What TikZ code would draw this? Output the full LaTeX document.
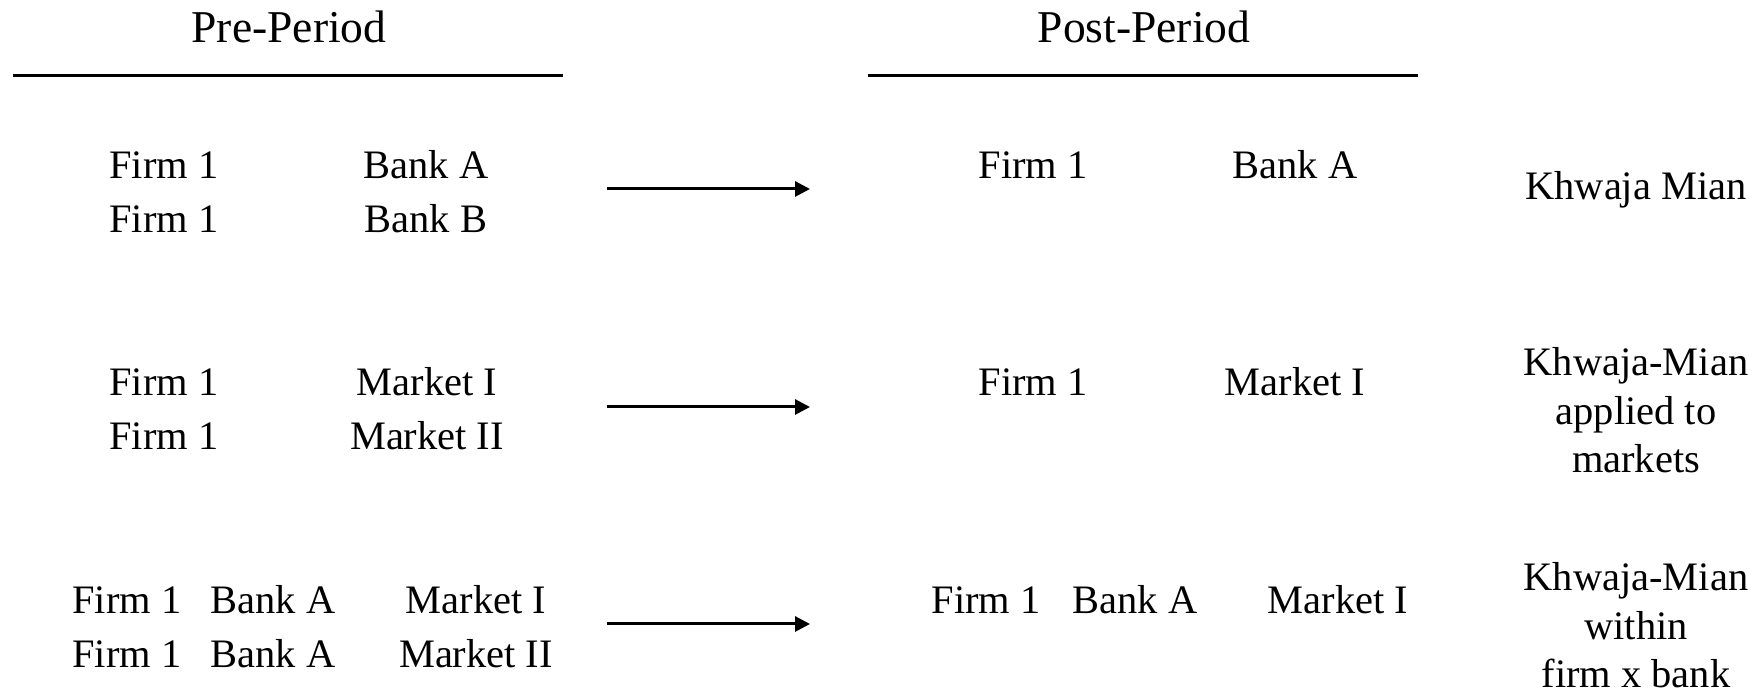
\documentclass[tikz,border=0pt]{standalone}
\usepackage{fontspec}
\setmainfont{Liberation Serif}
\usetikzlibrary{arrows.meta}

\tikzset{
	cell/.style={anchor=base, inner sep=0pt, font=\fontsize{11.5}{13.8}\selectfont},
	head/.style={anchor=base, inner sep=0pt, font=\fontsize{12.95}{15}\selectfont},
	note/.style={anchor=north, inner sep=0pt, align=center, font=\fontsize{11.5}{13.8}\selectfont},
	rule/.style={line width=0.85pt},
	moveto/.style={line width=0.85pt, -{Triangle[length=0.15cm, width=0.15cm]}}
}

\begin{document}
\begin{tikzpicture}[x=0.01cm, y=-0.01cm]
			%%%%% START %%%%%
			\useasboundingbox (0, 0) rectangle (1757, 692);
			
			% headers
			\node[head] (pre) at (289, 43) {Pre-Period};
			\node[head] (post) at (1144, 43) {Post-Period};
			\coordinate (preL) at (13, 76);
			\coordinate (preR) at (563, 76);
			\coordinate (postL) at (868, 76);
			\coordinate (postR) at (1418, 76);
			\draw[rule] (preL) -- (preR);
			\draw[rule] (postL) -- (postR);
			
			% firm x bank
			\node[cell] (f1a) at (164, 179) {Firm 1};
			\node[cell] (b1a) at (426, 179) {Bank A};
			\node[cell] (f1b) at (164, 233) {Firm 1};
			\node[cell] (b1b) at (426, 233) {Bank B};
			\coordinate (s1) at (607, 189);
			\coordinate (e1) at (810, 189);
			\draw[moveto] (s1) -- (e1);
			\node[cell] (pf1) at (1033, 179) {Firm 1};
			\node[cell] (pb1) at (1295, 179) {Bank A};
			\node[cell] (km1) at (1636, 200) {Khwaja Mian};
			
			% firm x market
			\node[cell] (f2a) at (164, 396) {Firm 1};
			\node[cell] (m2a) at (427, 396) {Market I};
			\node[cell] (f2b) at (164, 450) {Firm 1};
			\node[cell] (m2b) at (427, 450) {Market II};
			\coordinate (s2) at (607, 407);
			\coordinate (e2) at (810, 407);
			\draw[moveto] (s2) -- (e2);
			\node[cell] (pf2) at (1033, 396) {Firm 1};
			\node[cell] (pm2) at (1295, 396) {Market I};
			\node[note] (km2) at (1636, 347) {Khwaja-Mian\\applied to\\markets};
			
			% firm x bank x market
			\node[cell] (f3a) at (127, 614) {Firm 1};
			\node[cell] (b3a) at (273, 614) {Bank A};
			\node[cell] (m3a) at (476, 614) {Market I};
			\node[cell] (f3b) at (127, 668) {Firm 1};
			\node[cell] (b3b) at (273, 668) {Bank A};
			\node[cell] (m3b) at (476, 668) {Market II};
			\coordinate (s3) at (607, 624);
			\coordinate (e3) at (810, 624);
			\draw[moveto] (s3) -- (e3);
			\node[cell] (pf3) at (986, 614) {Firm 1};
			\node[cell] (pb3) at (1135, 614) {Bank A};
			\node[cell] (pm3) at (1338, 614) {Market I};
			\node[note] (km3) at (1636, 562) {Khwaja-Mian\\within\\firm x bank};
			
			%%%%% END %%%%%
\end{tikzpicture}
\end{document}
